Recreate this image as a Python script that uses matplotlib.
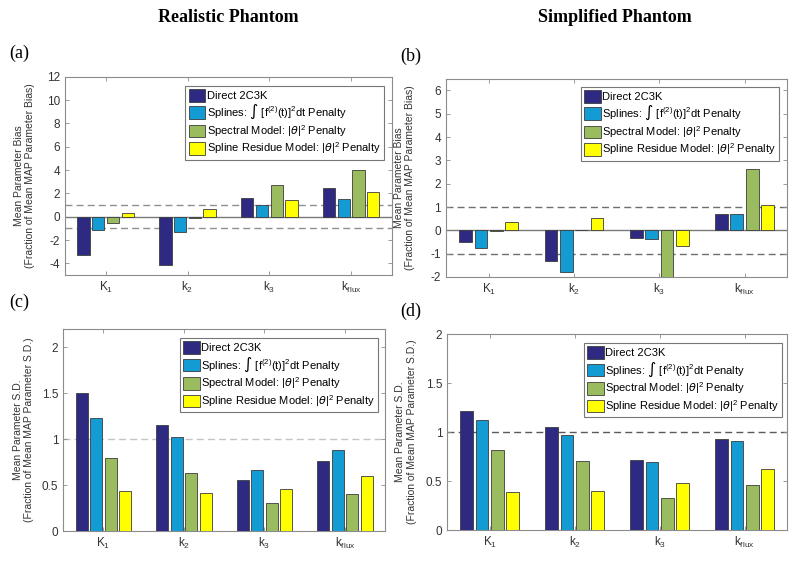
import numpy as np
import matplotlib
matplotlib.use('Agg')
import matplotlib.pyplot as plt
from matplotlib.ticker import FuncFormatter

plt.rcParams['font.family'] = ['Liberation Sans', 'DejaVu Sans']
plt.rcParams['mathtext.default'] = 'regular'

params = ['$K_1$', '$k_2$', '$k_3$', '$k_{flux}$']
methods = [
    'Direct 2C3K',
    'Splines: \u222b [f$^{(2)}$(t)]$^2$dt Penalty',
    'Spectral Model: |$\\mathit{\\theta}$|$^2$ Penalty',
    'Spline Residue Model: |$\\mathit{\\theta}$|$^2$ Penalty',
]
colors = ['#2e2a82', '#139bd3', '#9bbb5f', '#ffff00']

# rows = methods, columns = K1, k2, k3, kflux
bias_realistic = [
    [-3.3, -4.1, 1.65, 2.45],
    [-1.1, -1.3, 1.0, 1.5],
    [-0.5, -0.1, 2.7, 4.0],
    [0.3, 0.65, 1.4, 2.15],
]
bias_simplified = [
    [-0.5, -1.3, -0.33, 0.7],
    [-0.75, -1.8, -0.35, 0.7],
    [-0.03, 0.03, -2.0, 2.65],
    [0.38, 0.55, -0.65, 1.1],
]
sd_realistic = [
    [1.5, 1.15, 0.56, 0.76],
    [1.23, 1.025, 0.67, 0.88],
    [0.80, 0.63, 0.30, 0.40],
    [0.44, 0.41, 0.46, 0.60],
]
sd_simplified = [
    [1.21, 1.05, 0.715, 0.93],
    [1.12, 0.97, 0.69, 0.91],
    [0.815, 0.70, 0.33, 0.455],
    [0.39, 0.40, 0.48, 0.62],
]

bias_label = 'Mean Parameter Bias\n(Fraction of Mean MAP Parameter Bias)'
sd_label = 'Mean Parameter S.D.\n(Fraction of Mean MAP Parameter S.D.)'

fig = plt.figure(figsize=(8, 5.63), dpi=100)

panels = [
    # rect, data, ylim, yticks, ylabel, ref lines, ref color, zero line, legend anchor
    ([0.081, 0.5115, 0.409, 0.352], bias_realistic, (-5, 12), np.arange(-4, 13, 2),
     bias_label, [1, -1], '#8f8f8f', True, (0.975, 0.955)),
    ([0.5575, 0.508, 0.4265, 0.352], bias_simplified, (-2, 6.5), np.arange(-2, 7, 1),
     bias_label, [1, -1], '#6e6e6e', True, (0.977, 0.96)),
    ([0.079, 0.0568, 0.4025, 0.3588], sd_realistic, (0, 2.2), [0, 0.5, 1, 1.5, 2],
     sd_label, [1], '#c4c4c4', False, (0.978, 0.955)),
    ([0.559, 0.0586, 0.425, 0.348], sd_simplified, (0, 2), [0, 0.5, 1, 1.5, 2],
     sd_label, [1], '#5a5a5a', False, (0.985, 0.954)),
]

x = np.arange(1, 5)
offsets = (np.arange(4) - 1.5) * 0.18
spine_col = '#8c8c8c'

for rect, data, ylim, yticks, ylabel, refs, refcol, zero, anchor in panels:
    ax = fig.add_axes(rect)
    for i in range(4):
        ax.bar(x + offsets[i], data[i], width=0.15, color=colors[i],
               edgecolor='#3c3c3c', linewidth=0.6, label=methods[i], zorder=3)
    for r in refs:
        ax.axhline(r, color=refcol, linestyle=(0, (5, 3)), linewidth=1, zorder=1)
    if zero:
        ax.axhline(0, color='#7a7a7a', linewidth=1, zorder=2)
    ax.set_xlim(0.5, 4.5)
    ax.set_ylim(*ylim)
    ax.set_xticks(x)
    ax.set_xticklabels(params)
    ax.set_yticks(yticks)
    ax.yaxis.set_major_formatter(FuncFormatter(lambda v, p: '%g' % v))
    ax.tick_params(direction='in', top=True, right=True, length=3, width=0.6,
                   color=spine_col, labelcolor='#333333', labelsize=8.5)
    for s in ax.spines.values():
        s.set_color(spine_col)
        s.set_linewidth(0.8)
    ax.set_ylabel(ylabel, fontsize=7.5, color='#333333', linespacing=1.2)
    ax.yaxis.set_label_coords(-0.09, 0.5)
    leg = ax.legend(loc='upper right', bbox_to_anchor=anchor, borderaxespad=0,
                    fontsize=8, frameon=True, fancybox=False, framealpha=1,
                    handlelength=1.5, handleheight=1.35, handletextpad=0.1,
                    labelspacing=0.15, borderpad=0.3)
    leg.get_frame().set_edgecolor('#777777')
    leg.get_frame().set_linewidth(0.8)
    leg.set_zorder(5)

serif = ['Liberation Serif', 'DejaVu Serif']
fig.text(228 / 800, 1 - 18 / 563, 'Realistic Phantom', ha='center', va='center',
         fontsize=13, fontweight='bold', family=serif)
fig.text(615 / 800, 1 - 18 / 563, 'Simplified Phantom', ha='center', va='center',
         fontsize=13, fontweight='bold', family=serif)
for lbl, px, py in [('(a)', 19, 53), ('(b)', 411, 56), ('(c)', 19, 302), ('(d)', 411, 311)]:
    fig.text(px / 800, 1 - py / 563, lbl, ha='center', va='center',
             fontsize=13, family=serif)

fig.savefig('out.png', dpi=100)
